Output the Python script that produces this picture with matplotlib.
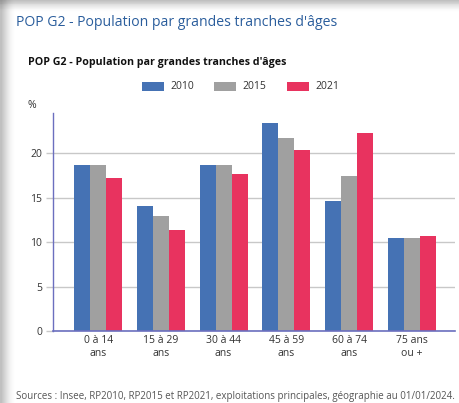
import matplotlib
matplotlib.use("Agg")
import matplotlib.pyplot as plt
from matplotlib.patches import Rectangle
import numpy as np

plt.rcParams['font.family'] = ['Open Sans', 'DejaVu Sans']

categories = ["0 à 14\nans", "15 à 29\nans", "30 à 44\nans", "45 à 59\nans", "60 à 74\nans", "75 ans\nou +"]
years = ["2010", "2015", "2021"]
v2010 = [18.6, 14.1, 18.7, 23.4, 14.6, 10.4]
v2015 = [18.7, 12.9, 18.7, 21.7, 17.4, 10.4]
v2021 = [17.2, 11.4, 17.6, 20.3, 22.2, 10.7]
colors = ["#4572b4", "#a0a0a0", "#e8335f"]
yticks = [0, 5, 10, 15, 20]

W, H = 459, 403
fig = plt.figure(figsize=(W / 100, H / 100), dpi=100)
fig.patch.set_facecolor("white")

# shadow of card (top & left)
for i in range(14):
    a = 0.06 * (i + 1) / 14
    fig.patches.append(Rectangle((0, 1 - (12 - i * 0.85) / H), 1, (12 - i * 0.85) / H,
                                 transform=fig.transFigure, facecolor="#606060", alpha=a,
                                 edgecolor="none", zorder=0))
    fig.patches.append(Rectangle((0, 0), (15 - i * 1.0) / W, 1,
                                 transform=fig.transFigure, facecolor="#606060", alpha=a,
                                 edgecolor="none", zorder=0))
fig.patches.append(Rectangle((15 / W, 0), 1, 1 - 12 / H, transform=fig.transFigure,
                             facecolor="white", edgecolor="none", zorder=1))

ax = fig.add_axes([53 / W, 1 - 331 / H, (455 - 53) / W, (331 - 113) / H])
ax.set_zorder(2)
ax.patch.set_alpha(0)

x = np.arange(len(categories))
bw = 0.255
for j, (vals, c) in enumerate(zip([v2010, v2015, v2021], colors)):
    ax.bar(x + (j - 1) * bw, vals, width=bw, color=c, edgecolor="none", zorder=3, label=years[j])

ax.set_xlim(-0.72, 5.69)
ax.set_ylim(0, 24.5)
ax.set_yticks(yticks)
ax.set_yticklabels([str(t) for t in yticks], fontsize=7.5, color="#333333")
ax.set_xticks(x)
ax.set_xticklabels(categories, fontsize=7.5, color="#333333", linespacing=1.25)
ax.tick_params(axis="x", length=0, pad=3)
ax.tick_params(axis="y", length=5, color="#c8c8c8", width=1, pad=3)
ax.grid(axis="y", color="#c8c8c8", linewidth=1, zorder=0)
for s in ["top", "right"]:
    ax.spines[s].set_visible(False)
ax.spines["left"].set_color("#6b6fbf")
ax.spines["bottom"].set_color("#6b6fbf")
ax.spines["left"].set_linewidth(1)
ax.spines["bottom"].set_linewidth(1.2)
ax.spines["bottom"].set_zorder(4)

fig.text(16 / W, 1 - 22 / H, "POP G2 - Population par grandes tranches d'âges",
         fontsize=10.1, color="#2a5d9c", va="center", ha="left", zorder=5)
fig.text(28 / W, 1 - 63 / H, "POP G2 - Population par grandes tranches d'âges",
         fontsize=7.7, fontweight="bold", color="#111111", va="center", ha="left", zorder=5)
fig.text(28 / W, 1 - 105 / H, "%", fontsize=7.5, color="#333333", va="center", ha="left", zorder=5)

# legend
lx = [142, 214, 287]
for xx, yr, c in zip(lx, years, colors):
    fig.patches.append(Rectangle((xx / W, 1 - 91 / H), 22 / W, 9 / H, transform=fig.transFigure,
                                 facecolor=c, edgecolor="none", zorder=5))
    fig.text((xx + 28) / W, 1 - 86.5 / H, yr, fontsize=7.5, color="#333333",
             va="center", ha="left", zorder=5)

fig.text(16 / W, 1 - 397 / H,
         "Sources : Insee, RP2010, RP2015 et RP2021, exploitations principales, géographie au 01/01/2024.",
         fontsize=7.05, color="#555555", va="center", ha="left", zorder=5)

fig.savefig("out.png", dpi=100, facecolor="white")
